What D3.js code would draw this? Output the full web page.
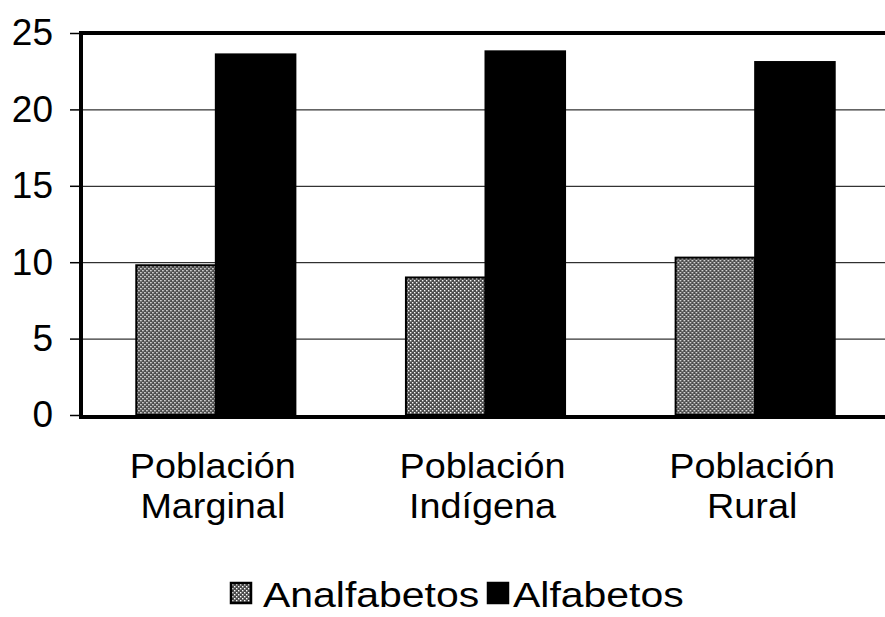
<!DOCTYPE html>
<html>
<head>
<meta charset="utf-8">
<script src="https://cdn.jsdelivr.net/npm/d3@7"></script>
<style>
  body { margin: 0; background: #fff; }
  svg { display: block; }
</style>
</head>
<body>
<div id="chart"></div>
<script>
const categories = [["Población", "Marginal"], ["Población", "Indígena"], ["Población", "Rural"]];
const seriesNames = ["Analfabetos", "Alfabetos"];
const analfabetos = [9.8, 9.0, 10.3];
const alfabetos = [23.6, 23.8, 23.1];
const yTicks = [0, 5, 10, 15, 20, 25];

const width = 885;
const height = 617;
const margin = { top: 33, right: -5, bottom: 202, left: 81 };
const font = "'Liberation Sans', Arial, Helvetica, sans-serif";

const data = categories.map((c, i) => ({
  key: c.join(" "),
  lines: c,
  values: [
    { series: seriesNames[0], value: analfabetos[i] },
    { series: seriesNames[1], value: alfabetos[i] }
  ]
}));

const svg = d3.select("#chart")
  .append("svg")
  .attr("width", width)
  .attr("height", height);

// halftone fill for the grey bars
const defs = svg.append("defs");
const pat = defs.append("pattern")
  .attr("id", "dots")
  .attr("patternUnits", "userSpaceOnUse")
  .attr("width", 4)
  .attr("height", 4);
pat.append("rect").attr("width", 4).attr("height", 4).attr("fill", "#4a4a4a");
pat.append("rect").attr("x", 0).attr("y", 0).attr("width", 1.4).attr("height", 1.4).attr("fill", "#fff");
pat.append("rect").attr("x", 2).attr("y", 2).attr("width", 1.4).attr("height", 1.4).attr("fill", "#fff");

const x0 = d3.scaleBand()
  .domain(data.map(d => d.key))
  .range([margin.left, width - margin.right])
  .paddingInner(0.41)
  .paddingOuter(0.205);

const x1 = d3.scaleBand()
  .domain(seriesNames)
  .range([0, x0.bandwidth()]);

const y = d3.scaleLinear()
  .domain([0, 25])
  .range([height - margin.bottom, margin.top]);

const fill = d3.scaleOrdinal()
  .domain(seriesNames)
  .range(["url(#dots)", "#000"]);

// gridlines
svg.append("g")
  .attr("transform", `translate(${margin.left},0)`)
  .call(d3.axisLeft(y)
    .tickValues(yTicks.filter(t => t > 0 && t < 25))
    .tickSize(-(width - margin.left))
    .tickFormat(""))
  .call(g => g.select(".domain").remove())
  .call(g => g.selectAll(".tick line").attr("stroke", "#000").attr("stroke-width", 1));

// bars
const groups = svg.selectAll("g.group")
  .data(data)
  .join("g")
  .attr("class", "group")
  .attr("transform", d => `translate(${x0(d.key)},0)`);

groups.selectAll("rect")
  .data(d => d.values)
  .join("rect")
  .attr("x", d => x1(d.series))
  .attr("y", d => y(d.value))
  .attr("width", x1.bandwidth())
  .attr("height", d => y(0) - y(d.value))
  .attr("fill", d => fill(d.series))
  .attr("stroke", "#000")
  .attr("stroke-width", 2);

// y axis
svg.append("g")
  .attr("transform", `translate(${margin.left},0)`)
  .call(d3.axisLeft(y)
    .tickValues(yTicks)
    .tickSize(11)
    .tickPadding(17))
  .call(g => g.select(".domain").remove())
  .call(g => g.selectAll(".tick line").attr("stroke", "#000").attr("stroke-width", 1.5))
  .call(g => g.selectAll("text")
    .attr("fill", "#000")
    .style("font-size", "37px")
    .style("font-family", font));

// frame: left axis, top border, base line
svg.append("line")
  .attr("x1", margin.left).attr("x2", margin.left)
  .attr("y1", y(25) - 2).attr("y2", y(0) + 4)
  .attr("stroke", "#000").attr("stroke-width", 4);
svg.append("line")
  .attr("x1", margin.left - 2).attr("x2", width)
  .attr("y1", y(25)).attr("y2", y(25))
  .attr("stroke", "#000").attr("stroke-width", 4);
svg.append("line")
  .attr("x1", margin.left - 2).attr("x2", width)
  .attr("y1", y(0) + 2).attr("y2", y(0) + 2)
  .attr("stroke", "#000").attr("stroke-width", 4);

// category labels (two lines each)
const labels = svg.selectAll("g.cat")
  .data(data)
  .join("g")
  .attr("class", "cat")
  .attr("transform", d => `translate(${x0(d.key) + x0.bandwidth() / 2 - 3},0)`);

labels.selectAll("text")
  .data(d => d.lines)
  .join("text")
  .attr("transform", (d, i) => `translate(0,${478 + i * 40}) scale(1.08,1)`)
  .attr("text-anchor", "middle")
  .attr("fill", "#000")
  .style("font-size", "35px")
  .style("font-family", font)
  .text(d => d);

// legend
const legendX = [230, 487];
const legend = svg.append("g");
const items = legend.selectAll("g")
  .data(seriesNames)
  .join("g")
  .attr("transform", (d, i) => `translate(${legendX[i]},582)`);

items.append("rect")
  .attr("x", 1)
  .attr("y", 1)
  .attr("width", 20)
  .attr("height", 20)
  .attr("fill", d => fill(d))
  .attr("stroke", "#000")
  .attr("stroke-width", 2.5);

items.append("text")
  .attr("transform", (d, i) => `translate(${i === 0 ? 33 : 26},25) scale(1.17,1)`)
  .attr("fill", "#000")
  .style("font-size", "35px")
  .style("font-family", font)
  .text(d => d);
</script>
</body>
</html>
